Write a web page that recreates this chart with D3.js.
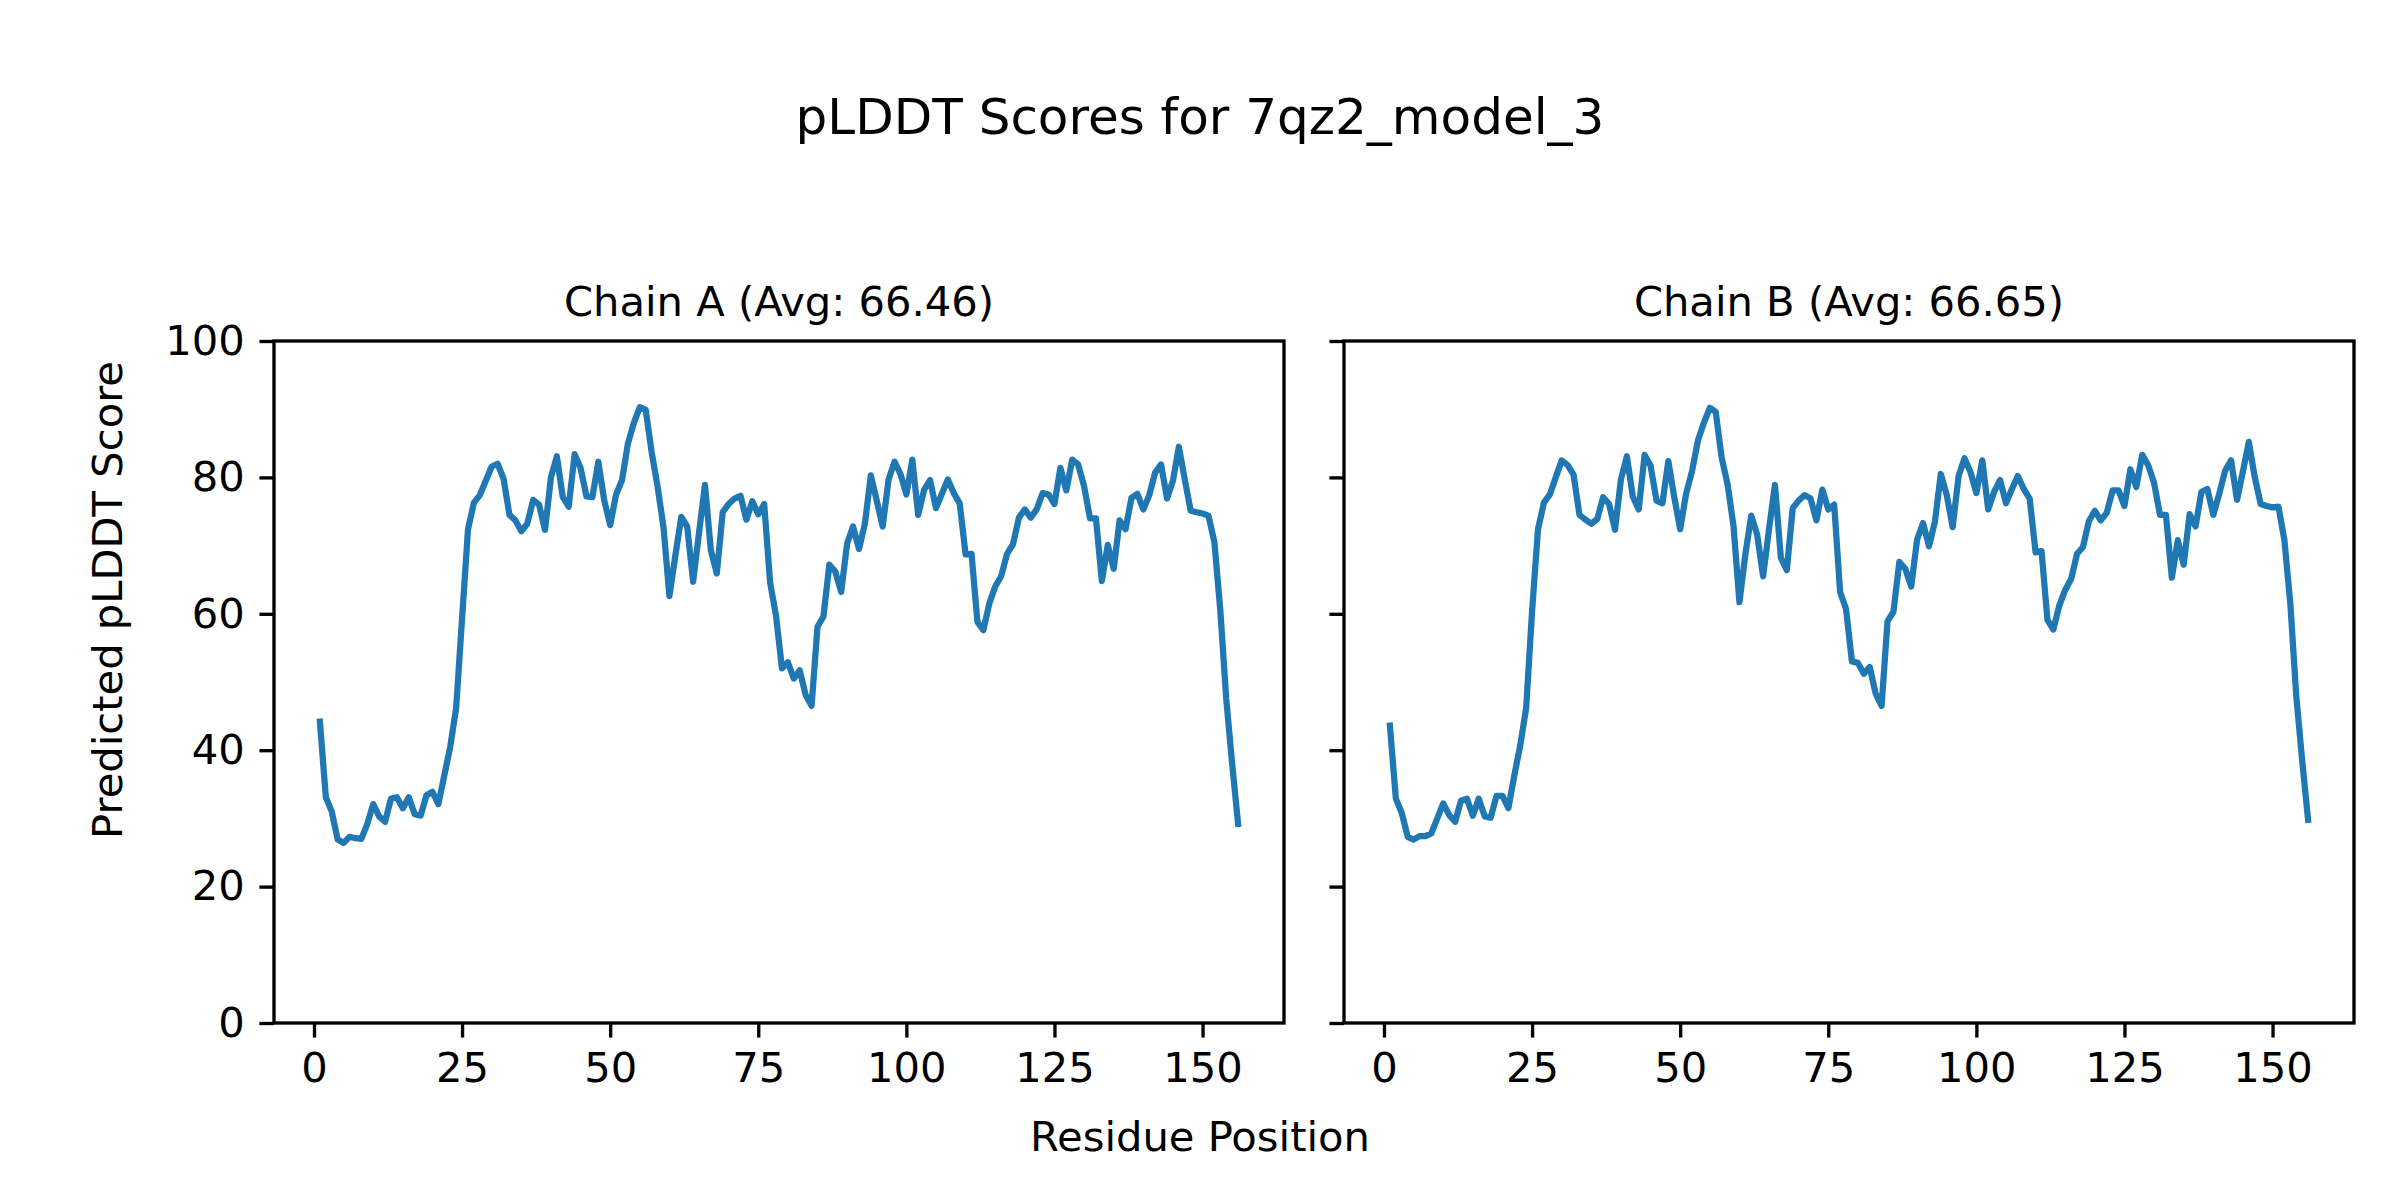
<!DOCTYPE html>
<html lang="en">
<head>
    <meta charset="UTF-8">
    <title>pLDDT Scores for 7qz2_model_3</title>
    <script src="https://d3js.org/d3.v7.min.js"></script>
    <style>
        body {
            margin: 0;
            background-color: #ffffff;
        }
        svg text {
            font-family: "DejaVu Sans", sans-serif;
            fill: #000000;
        }
    </style>
</head>
<body>
    <div id="chart"></div>

    <script>
        // Chart values
        const figTitle = "pLDDT Scores for 7qz2_model_3";
        const xLabel = "Residue Position";
        const yLabel = "Predicted pLDDT Score";
        const chainNames = ["Chain A (Avg: 66.46)", "Chain B (Avg: 66.65)"];
        const xTicks = [0, 25, 50, 75, 100, 125, 150];
        const yTicks = [0, 20, 40, 60, 80, 100];

        const chainA = [
            44.2, 33.1, 31.0, 26.9, 26.4, 27.3, 27.1, 27.0, 29.2, 32.1,
            30.3, 29.5, 32.9, 33.1, 31.5, 33.1, 30.6, 30.4, 33.4, 33.9,
            32.1, 36.3, 40.5, 46.2, 59.3, 72.4, 76.3, 77.4, 79.5, 81.6,
            82.0, 79.8, 74.5, 73.7, 72.1, 73.2, 76.7, 76.0, 72.3, 80.0,
            83.1, 77.1, 75.7, 83.4, 81.4, 77.2, 77.1, 82.3, 76.6, 73.0,
            77.5, 79.6, 85.0, 88.0, 90.3, 89.9, 83.7, 78.7, 72.7, 62.6,
            68.5, 74.2, 72.8, 64.7, 71.9, 78.9, 69.3, 65.9, 74.9, 76.1,
            76.9, 77.3, 73.8, 76.5, 74.6, 76.1, 64.6, 59.7, 52.0, 52.9,
            50.5, 51.7, 48.1, 46.5, 58.1, 59.6, 67.2, 66.2, 63.2, 70.3,
            72.8, 69.5, 73.2, 80.3, 76.6, 72.8, 79.7, 82.3, 80.5, 77.5,
            82.6, 74.5, 78.2, 79.6, 75.5, 77.6, 79.7, 77.7, 76.2, 68.7,
            68.8, 58.8, 57.6, 61.5, 64.0, 65.5, 68.8, 70.2, 74.1, 75.3,
            74.1, 75.3, 77.7, 77.5, 76.1, 81.4, 78.1, 82.6, 81.9, 78.7,
            74.0, 74.0, 64.8, 70.1, 66.6, 73.7, 72.4, 77.0, 77.6, 75.3,
            77.4, 80.7, 81.9, 76.9, 79.5, 84.5, 79.7, 75.1, 74.9, 74.7,
            74.4, 70.5, 60.5, 47.5, 38.0, 29.2
        ];

        const chainB = [
            43.6, 32.9, 30.8, 27.3, 26.9, 27.4, 27.4, 27.8, 30.0, 32.2,
            30.5, 29.5, 32.6, 32.9, 30.4, 32.9, 30.3, 30.1, 33.3, 33.3,
            31.5, 36.3, 40.7, 46.2, 60.4, 72.4, 76.3, 77.5, 80.0, 82.5,
            81.8, 80.4, 74.5, 73.8, 73.2, 73.9, 77.1, 76.1, 72.3, 79.7,
            83.1, 77.2, 75.3, 83.3, 81.7, 76.6, 76.2, 82.4, 77.1, 72.4,
            77.6, 80.9, 85.4, 88.0, 90.2, 89.6, 82.9, 79.0, 72.9, 61.7,
            68.7, 74.4, 71.6, 65.5, 72.4, 78.9, 68.2, 66.4, 75.5, 76.6,
            77.4, 76.9, 73.7, 78.2, 75.3, 76.0, 63.2, 60.7, 53.0, 52.8,
            51.2, 52.2, 48.3, 46.5, 58.9, 60.3, 67.6, 66.6, 64.0, 70.9,
            73.3, 69.9, 73.5, 80.5, 77.4, 72.7, 80.2, 82.8, 80.8, 77.7,
            82.5, 75.3, 77.9, 79.6, 76.2, 78.3, 80.2, 78.3, 76.9, 69.0,
            69.2, 59.1, 57.7, 61.2, 63.5, 65.1, 68.8, 69.8, 73.6, 75.1,
            73.7, 74.8, 78.1, 78.1, 75.8, 81.2, 78.6, 83.3, 81.8, 79.2,
            74.5, 74.5, 65.3, 70.8, 67.2, 74.6, 72.8, 77.9, 78.3, 74.5,
            77.6, 81.0, 82.5, 76.7, 80.9, 85.2, 80.0, 76.1, 75.8, 75.6,
            75.7, 70.8, 61.5, 48.0, 38.5, 29.8
        ];

        // Figure is 8x4 in at 300 dpi -> 1 pt = 300/72 px
        const pt = 300 / 72;
        const width = 2400;
        const height = 1200;
        const fontSize = 10 * pt;

        const svg = d3.select('#chart')
            .append('svg')
            .attr('width', width)
            .attr('height', height);

        svg.append('rect')
            .attr('width', width)
            .attr('height', height)
            .attr('fill', '#ffffff');

        // Panel boxes (left edges) in pixels, shared top/bottom
        const panelLeft = [274, 1344];
        const panelW = 1010;
        const plotTop = 341;
        const plotBottom = 1023;

        const y = d3.scaleLinear().domain([0, 100]).range([plotBottom, plotTop]);

        const chains = [chainA, chainB];

        chains.forEach((vals, k) => {
            const residues = vals.map((v, i) => i + 1);
            const pad = (residues[residues.length - 1] - residues[0]) * 0.05;
            const x = d3.scaleLinear()
                .domain([residues[0] - pad, residues[residues.length - 1] + pad])
                .range([panelLeft[k], panelLeft[k] + panelW]);

            const g = svg.append('g');

            // Line of scores
            const line = d3.line()
                .x((d, i) => x(residues[i]))
                .y(d => y(d));

            g.append('path')
                .datum(vals)
                .attr('d', line)
                .attr('fill', 'none')
                .attr('stroke', '#1f77b4')
                .attr('stroke-width', 1.5 * pt)
                .attr('stroke-linejoin', 'round')
                .attr('stroke-linecap', 'square');

            // Bottom axis
            const xAxis = d3.axisBottom(x)
                .tickValues(xTicks)
                .tickSizeOuter(0)
                .tickSize(3.5 * pt)
                .tickPadding(3.5 * pt);

            const gx = g.append('g')
                .attr('transform', `translate(0,${plotBottom})`)
                .call(xAxis);

            // Left axis (labels only on the first panel)
            const yAxis = d3.axisLeft(y)
                .tickValues(yTicks)
                .tickSizeOuter(0)
                .tickSize(3.5 * pt)
                .tickPadding(3.5 * pt);
            if (k > 0) yAxis.tickFormat('');

            const gy = g.append('g')
                .attr('transform', `translate(${panelLeft[k]},0)`)
                .call(yAxis);

            [gx, gy].forEach(a => {
                a.select('.domain').remove();
                a.selectAll('.tick line')
                    .attr('stroke', '#000')
                    .attr('stroke-width', 0.8 * pt);
                a.selectAll('.tick text')
                    .attr('font-size', fontSize)
                    .attr('font-family', '"DejaVu Sans", sans-serif')
                    .attr('fill', '#000');
            });

            // Frame
            g.append('rect')
                .attr('x', panelLeft[k])
                .attr('y', plotTop)
                .attr('width', panelW)
                .attr('height', plotBottom - plotTop)
                .attr('fill', 'none')
                .attr('stroke', '#000')
                .attr('stroke-width', 0.8 * pt);

            // Panel title
            g.append('text')
                .attr('x', panelLeft[k] + panelW / 2)
                .attr('y', plotTop - 6 * pt)
                .attr('text-anchor', 'middle')
                .attr('font-size', fontSize)
                .text(chainNames[k]);
        });

        // Figure title and shared labels
        svg.append('text')
            .attr('x', width / 2)
            .attr('y', 134)
            .attr('text-anchor', 'middle')
            .attr('font-size', 12 * pt)
            .text(figTitle);

        svg.append('text')
            .attr('x', width / 2)
            .attr('y', 1151)
            .attr('text-anchor', 'middle')
            .attr('font-size', fontSize)
            .text(xLabel);

        svg.append('text')
            .attr('transform', `translate(122,${height / 2}) rotate(-90)`)
            .attr('text-anchor', 'middle')
            .attr('font-size', fontSize)
            .text(yLabel);
    </script>
</body>
</html>
